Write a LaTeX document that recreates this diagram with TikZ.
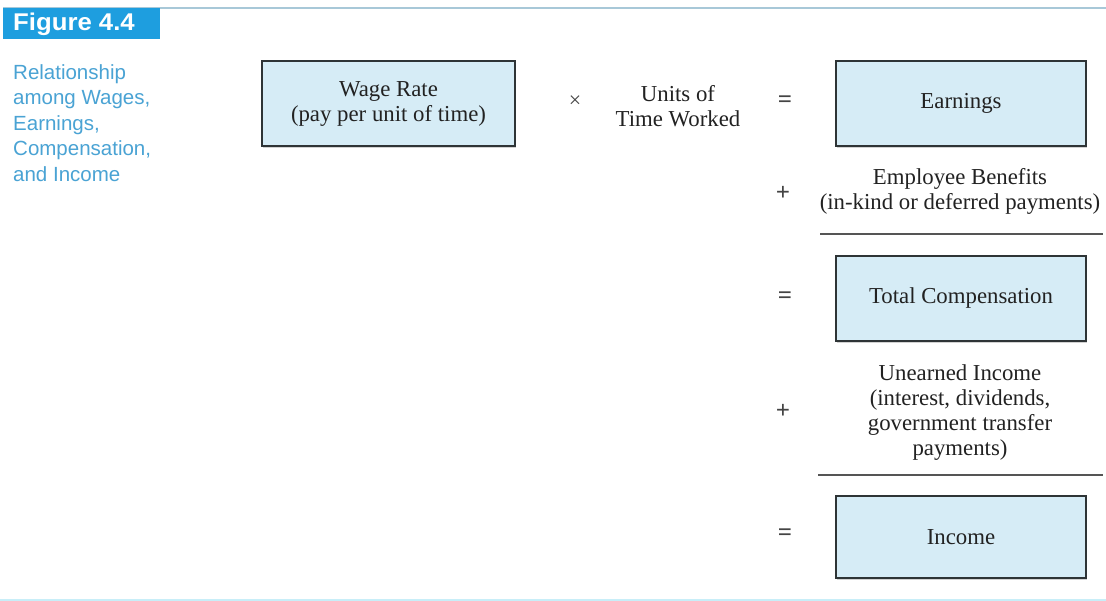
\documentclass[tikz,border=0pt]{standalone}
\usepackage{fontspec}
\usepackage{graphicx}
\setmainfont{Liberation Serif}
\newfontfamily\sansf{Liberation Sans}
\usetikzlibrary{shadows}
\definecolor{tabblue}{HTML}{1E9EDF}
\definecolor{capblue}{HTML}{4AA3D4}
\definecolor{boxfill}{HTML}{D6ECF6}
\definecolor{boxline}{HTML}{2E3436}
\definecolor{rulegray}{HTML}{555555}
\definecolor{opgray}{HTML}{444444}
\definecolor{topline}{HTML}{A8C8D8}
\definecolor{botline}{HTML}{C8EEF8}
\definecolor{txt}{HTML}{222222}
\begin{document}
\begin{tikzpicture}[x=1pt,y=-1pt,
  valbox/.style={draw=boxline,line width=2pt,fill=boxfill,
    drop shadow={shadow xshift=1pt,shadow yshift=-2pt,opacity=0.35},
    align=center,inner sep=0pt,text=txt,
    font=\fontsize{22.8}{25}\selectfont},
  lbl/.style={align=center,inner sep=0pt,text=txt,font=\fontsize{22.8}{25}\selectfont},
  op/.style={inner sep=0pt,text=opgray,font=\bfseries\fontsize{25}{27}\selectfont},
  sumrule/.style={draw=rulegray,line width=2.5pt}]
\useasboundingbox (0,0) rectangle (1106,601);
\fill[white] (0,0) rectangle (1106,601);
% header
\draw[topline,line width=1.5pt] (3,8) -- (1106,8);
\fill[tabblue] (3,8) rectangle (160,39);
\node[anchor=west,inner sep=0pt,text=white] (fig) at (13,24)
  {\scalebox{1.17}[1.1]{\sansf\bfseries\fontsize{22}{24}\selectfont Figure 4.4}};
\node[anchor=north west,align=left,inner sep=0pt,text=capblue,
  font=\sansf\fontsize{20.5}{25.5}\selectfont] (cap) at (13,64)
  {Relationship\\among Wages,\\Earnings,\\Compensation,\\and Income};
\draw[botline,line width=1.5pt] (0,600) -- (1106,600);
% boxes
\node[valbox,minimum width=253pt,minimum height=85pt] (wage) at (388.5,103.5)
  {Wage Rate\\(pay per unit of time)};
\node[op,font=\fontsize{22}{24}\selectfont] (times) at (575,102) {×};
\node[lbl] (units) at (678,106) {Units of\\Time Worked};
\node[op] (eq1) at (785,102) {=};
\node[valbox,minimum width=250pt,minimum height=85pt] (earn) at (961,103.5) {Earnings};
\node[op] (plus1) at (783,193) {+};
\node[lbl] (ben) at (960,191) {Employee Benefits\\(in-kind or deferred payments)};
\coordinate (r1a) at (820,234);
\coordinate (r1b) at (1103,234);
\draw[sumrule] (r1a) -- (r1b);
\node[op] (eq2) at (785,298) {=};
\node[valbox,minimum width=250pt,minimum height=85pt] (comp) at (961,298.5) {Total Compensation};
\node[op] (plus2) at (783,411) {+};
\node[lbl] (unearn) at (960,413) {Unearned Income\\(interest, dividends,\\government transfer\\payments)};
\coordinate (r2a) at (818,475);
\coordinate (r2b) at (1103,475);
\draw[sumrule] (r2a) -- (r2b);
\node[op] (eq3) at (785,535) {=};
\node[valbox,minimum width=250pt,minimum height=82pt] (inc) at (961,537) {Income};
\end{tikzpicture}
\end{document}
